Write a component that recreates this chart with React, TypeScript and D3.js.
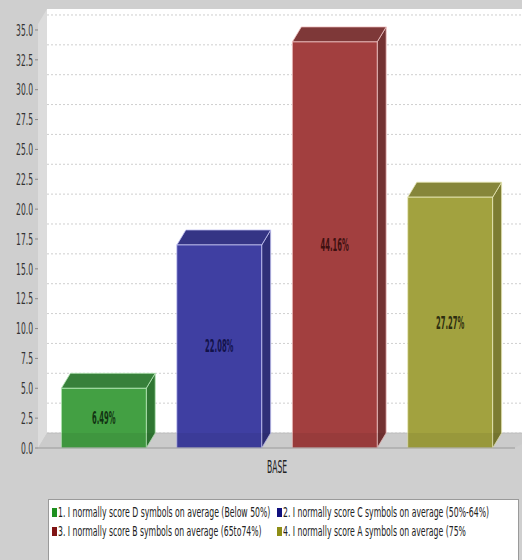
import React from "react";
import * as d3 from "d3";

// Survey answers: respondent counts per answer, single category "BASE"
const category = "BASE";
const seriesNames = [
  "1. I normally score D symbols on average (Below 50%)",
  "2. I normally score C symbols on average (50%-64%)",
  "3. I normally score B symbols on average (65to74%)",
  "4. I normally score A symbols on average (75%",
];
const counts = [5, 17, 34, 21];
const yTickValues = [0, 2.5, 5, 7.5, 10, 12.5, 15, 17.5, 20, 22.5, 25, 27.5, 30, 32.5, 35];

// Per-series palette: front face, top face, side face, outline, label ink, legend swatch
const frontColors = ["#43a043", "#3f3fa2", "#a23f3f", "#a2a23f"];
const topColors = ["#37803a", "#353585", "#7e3838", "#86863a"];
const sideColors = ["#2f7632", "#2f2f78", "#733232", "#7c7c32"];
const edgeColors = ["#b6e6b6", "#c4c4f2", "#f0c4c4", "#e8e8b8"];
const labelColors = ["#123212", "#12124a", "#3e1010", "#2e2e10"];
const swatchColors = ["#1f901f", "#10107e", "#801414", "#8e8e16"];

const W = 522;
const H = 560;
const DX = 9; // 3D depth, horizontal
const DY = 15; // 3D depth, vertical

const FONT = "'DejaVu Sans', sans-serif";

type STextProps = {
  x: number;
  y: number;
  size: number;
  sx: number;
  anchor?: "start" | "middle" | "end";
  weight?: string | number;
  fill?: string;
  children: React.ReactNode;
};

// Text squeezed horizontally (narrow face)
function SText({ x, y, size, sx, anchor = "start", weight = "normal", fill = "#222", children }: STextProps) {
  return (
    <text
      transform={`translate(${x},${y}) scale(${sx},1)`}
      textAnchor={anchor}
      dominantBaseline="central"
      fontFamily={FONT}
      fontSize={size}
      fontWeight={weight}
      fill={fill}
    >
      {children}
    </text>
  );
}

export default function App() {
  const total = d3.sum(counts);

  const plotLeft = 38;
  const plotRight = 515;
  const y = d3.scaleLinear().domain([0, 35.5]).range([448, 24]);
  const x = d3
    .scaleBand<number>()
    .domain(d3.range(seriesNames.length))
    .range([40, 514])
    .paddingInner(0.265)
    .paddingOuter(0.185);

  const y0 = y(0);
  const yTop = y(35.5);
  const backLeft = plotLeft + DX;
  const backTop = yTop - DY;
  const backBottom = y0 - DY;

  const fmt = d3.format(".2f");

  return (
    <svg
      width={W}
      height={H}
      style={{ position: "fixed", left: 0, top: 0, display: "block" }}
    >
      <rect x={0} y={0} width={W} height={H} fill="#cfcfcf" />

      {/* back wall */}
      <rect x={backLeft} y={backTop} width={W - backLeft + 10} height={backBottom - backTop} fill="#ffffff" />

      {/* gridlines on the back wall */}
      {yTickValues.map((v) => (
        <line
          key={`g${v}`}
          x1={backLeft}
          x2={W + 10}
          y1={y(v) - DY}
          y2={y(v) - DY}
          stroke="#cfcfcf"
          strokeWidth={1}
          strokeDasharray="2,2"
        />
      ))}

      {/* left wall */}
      <polygon
        points={`${plotLeft},${yTop} ${backLeft},${backTop} ${backLeft},${backBottom} ${plotLeft},${y0}`}
        fill="#dcdcdc"
      />
      {/* floor */}
      <polygon
        points={`${plotLeft},${y0} ${backLeft},${backBottom} ${W + 20},${backBottom} ${plotRight},${y0}`}
        fill="#d8d8d8"
      />
      <line x1={backLeft} x2={W + 10} y1={backBottom} y2={backBottom} stroke="#c8c8c8" />

      {/* bars */}
      {counts.map((c, i) => {
        const bx = x(i)!;
        const bw = x.bandwidth();
        const top = y(c);
        return (
          <g key={`b${i}`}>
            <polygon
              points={`${bx + bw},${top} ${bx + bw + DX},${top - DY} ${bx + bw + DX},${y0 - DY} ${bx + bw},${y0}`}
              fill={sideColors[i]}
              stroke={edgeColors[i]}
              strokeWidth={0.8}
            />
            <polygon
              points={`${bx},${top} ${bx + DX},${top - DY} ${bx + bw + DX},${top - DY} ${bx + bw},${top}`}
              fill={topColors[i]}
              stroke={edgeColors[i]}
              strokeWidth={0.8}
            />
            <rect
              x={bx}
              y={top}
              width={bw}
              height={y0 - top}
              fill={frontColors[i]}
              stroke={edgeColors[i]}
              strokeWidth={0.8}
            />
          </g>
        );
      })}

      {/* floor band shading over the bar bottoms */}
      <polygon
        points={`${plotLeft},${y0} ${backLeft},${backBottom} ${W + 20},${backBottom} ${plotRight},${y0}`}
        fill="#000"
        opacity={0.06}
      />

      {/* category axis line */}
      <line x1={plotLeft} x2={plotRight} y1={y0} y2={y0} stroke="#9a9a9a" strokeWidth={1} />

      {/* value labels */}
      {counts.map((c, i) => {
        const bx = x(i)!;
        const bw = x.bandwidth();
        return (
          <SText
            key={`l${i}`}
            x={bx + bw / 2}
            y={(y(c) + y0) / 2}
            size={17}
            sx={0.4}
            anchor="middle"
            weight="bold"
            fill={labelColors[i]}
          >
            {`${fmt((c / total) * 100)}%`}
          </SText>
        );
      })}

      {/* value axis */}
      {yTickValues.map((v) => (
        <g key={`t${v}`}>
          <line x1={plotLeft - 3} x2={plotLeft} y1={y(v)} y2={y(v)} stroke="#888" />
          <SText x={plotLeft - 5} y={y(v)} size={16.5} sx={0.46} anchor="end" fill="#333">
            {d3.format(".1f")(v)}
          </SText>
        </g>
      ))}

      {/* category label */}
      <SText x={(x(0)! + x(seriesNames.length - 1)! + x.bandwidth()) / 2} y={467} size={17} sx={0.45} anchor="middle" fill="#222">
        {category}
      </SText>

      {/* legend */}
      <rect x={48.5} y={499.5} width={470} height={70} fill="#ffffff" stroke="#9a9a9a" />
      {seriesNames.map((name, i) => {
        const col = i % 2;
        const row = Math.floor(i / 2);
        const lx = col === 0 ? 52 : 277;
        const ly = 512 + row * 19;
        return (
          <g key={`lg${i}`}>
            <rect x={lx} y={ly - 4} width={5} height={9} fill={swatchColors[i]} />
            <SText x={lx + 6} y={ly} size={14.5} sx={0.535} fill="#222">
              {name}
            </SText>
          </g>
        );
      })}
    </svg>
  );
}
